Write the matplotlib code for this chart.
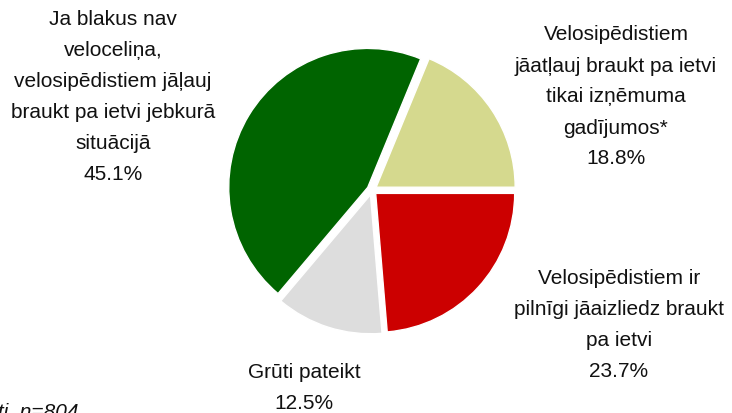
import matplotlib.pyplot as plt

labels = ['Velosipēdistiem\njāatļauj braukt pa ietvi\ntikai izņēmuma\ngadījumos*',
          'Ja blakus nav\nveloceliņa,\nvelosipēdistiem jāļauj\nbraukt pa ietvi jebkurā\nsituācijā',
          'Grūti pateikt',
          'Velosipēdistiem ir\npilnīgi jāaizliedz braukt\npa ietvi']
shares = [18.8, 45.1, 12.5, 23.7]
colors = ['#D5D98E', '#006400', '#DDDDDD', '#CC0000']
note = 'Visi respondenti, n=804'

plt.rcParams['font.family'] = ['Liberation Sans', 'DejaVu Sans']

fig = plt.figure(figsize=(7.32, 4.14), dpi=100)
ax = fig.add_axes([0, 0, 1, 1])

# explode is in data units here (1 unit = 1 pixel)
ax.pie(shares, colors=colors, startangle=0, counterclock=True,
       center=(372, 223), radius=139, explode=[5] * 4,
       wedgeprops=dict(edgecolor='white', linewidth=1))

# pie() resets the limits, so set them afterwards
ax.set_xlim(0, 732)
ax.set_ylim(0, 414)
ax.set_aspect('equal')
ax.axis('off')

# label positions (pixel centres, y from top)
label_pos = [(616, 97), (113, 97), (304, 388), (619, 325)]
for lab, val, (px, py) in zip(labels, shares, label_pos):
    ax.text(px, 414 - py, lab + '\n' + f'{val:.1f}%', ha='center', va='center',
            fontsize=15, linespacing=1.8, color='#111111')

ax.text(79, 414 - 418, note, ha='right', va='baseline', fontsize=15,
        style='italic', color='#111111', clip_on=False)

fig.savefig('out.png', dpi=100)
